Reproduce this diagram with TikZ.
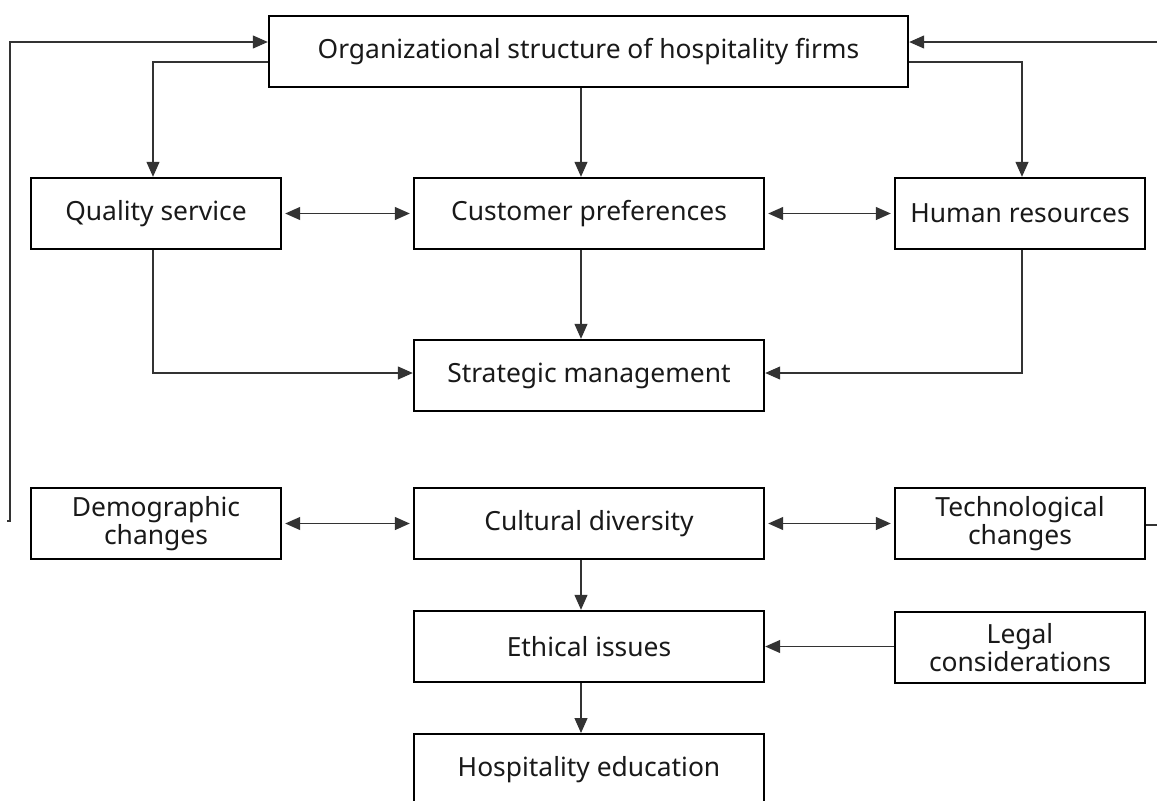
\documentclass[tikz,border=0pt]{standalone}
\usepackage{fontspec}
\setmainfont{Noto Sans}
\usetikzlibrary{arrows.meta}
\begin{document}
\begin{tikzpicture}[x=0.5pt,y=-0.5pt,
  box/.style={draw=black,line width=1.2pt,inner sep=0pt,align=center,
    minimum height=35.5pt,font=\fontsize{13.2}{14}\selectfont,text=black!90},
  narrow/.style={box,minimum width=125pt},
  wide/.style={box,minimum width=175pt},
  link/.style={draw=black!80,line width=0.6pt},
  arr/.style={link,-{Triangle[length=7.5pt,width=6.5pt]}},
  darr/.style={link,{Triangle[length=7.5pt,width=6.5pt]}-{Triangle[length=7.5pt,width=6.5pt]}}]
\path[clip] (0,0) rectangle (1157,800);
\fill[white] (0,0) rectangle (1157,800);
% nodes
\node[box,minimum width=319.5pt] (org) at (588.5,51.5) {Organizational structure of hospitality firms};
\node[narrow] (qs) at (156,213.5) {Quality service};
\node[wide] (cp) at (589,213.5) {Customer preferences};
\node[narrow] (hr) at (1020,213.5) {Human resources};
\node[wide] (sm) at (589,375.5) {Strategic management};
\node[narrow] (dc) at (156,523.5) {Demographic\\changes};
\node[wide] (cd) at (589,523.5) {Cultural diversity};
\node[narrow] (tc) at (1020,523.5) {Technological\\changes};
\node[wide] (ei) at (589,646.5) {Ethical issues};
\node[narrow] (lc) at (1020,647.5) {Legal\\considerations};
\node[wide,minimum height=40pt,anchor=north] (he) at (589,733) {\raisebox{8pt}{Hospitality education}};
% helper coordinates
\coordinate (mx) at (581,0);
\coordinate (lx) at (153,0);
\coordinate (rx) at (1022,0);
\coordinate (y62) at (0,62);
\coordinate (y42) at (0,42);
\coordinate (y373) at (0,373);
\coordinate (lb) at (10,521);
\coordinate (lbt) at (7,521);
\coordinate (rt) at (1157,42);
\coordinate (re) at (1157,525);
% connectors
\draw[arr] (org.west |- y62) -| (qs.north -| lx);
\draw[arr] (org.east |- y62) -| (hr.north -| rx);
\draw[arr] (org.south -| mx) -- (cp.north -| mx);
\draw[darr] ([xshift=1.5pt]qs.east) -- ([xshift=-1.5pt]cp.west);
\draw[darr] ([xshift=1.5pt]cp.east) -- ([xshift=-1.5pt]hr.west);
\draw[arr] (cp.south -| mx) -- (sm.north -| mx);
\draw[arr] (qs.south -| lx) |- (sm.west |- y373);
\draw[arr] (hr.south -| rx) |- (sm.east |- y373);
\draw[darr] ([xshift=1.5pt]dc.east) -- ([xshift=-1.5pt]cd.west);
\draw[darr] ([xshift=1.5pt]cd.east) -- ([xshift=-1.5pt]tc.west);
\draw[arr] (cd.south -| mx) -- (ei.north -| mx);
\draw[arr] (lc.west |- ei.east) -- (ei.east);
\draw[arr] (ei.south -| mx) -- (he.north -| mx);
\draw[arr] (lbt) -- (lb) |- (org.west |- y42);
\draw[arr] (rt) -- (org.east |- y42);
\draw[link] (tc.east |- re) -- (re);
\end{tikzpicture}
\end{document}
